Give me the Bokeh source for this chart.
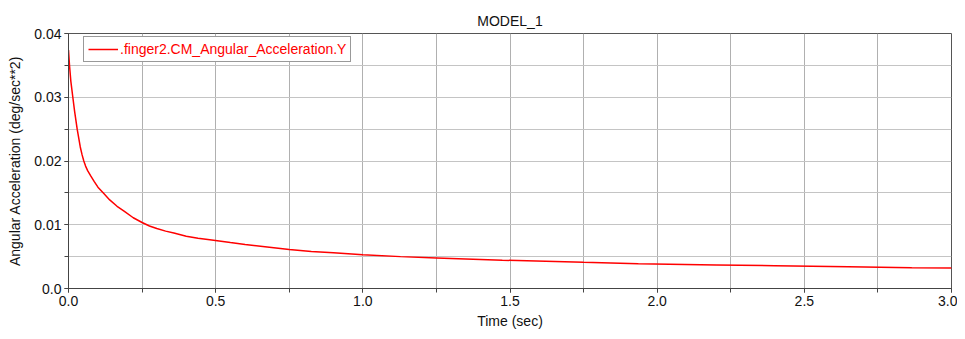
import numpy as np
from bokeh.plotting import figure
from bokeh.models import FixedTicker, Legend, LegendItem
from bokeh.embed import file_html
from bokeh.resources import INLINE

# ---- data ----
time_sec = [0.0, 0.0034, 0.008, 0.0147, 0.021, 0.0295, 0.04, 0.046, 0.052,
            0.058, 0.065, 0.075, 0.087, 0.1, 0.12, 0.14, 0.165, 0.19, 0.22,
            0.25, 0.275, 0.3, 0.33, 0.358, 0.4, 0.44, 0.48, 0.55, 0.6, 0.675,
            0.75, 0.825, 0.9, 1.0, 1.128, 1.25, 1.474, 1.75, 1.936, 2.2, 2.4,
            2.65, 2.865, 3.0]
ang_acc = [0.0374, 0.0350, 0.0325, 0.0300, 0.0277, 0.0250, 0.0222, 0.0210,
           0.0200, 0.0192, 0.0185, 0.0177, 0.0168, 0.0159, 0.0149, 0.0139,
           0.0129, 0.0121, 0.0111, 0.01035, 0.0098, 0.0094, 0.0090, 0.0087,
           0.0082, 0.0079, 0.00765, 0.0072, 0.0069, 0.0065, 0.0061, 0.0058,
           0.0056, 0.0053, 0.0050, 0.0048, 0.00444, 0.0041, 0.0039, 0.0037,
           0.00357, 0.0034, 0.00326, 0.0032]

x_ticks = [0.0, 0.5, 1.0, 1.5, 2.0, 2.5, 3.0]
x_tick_labels = ["0.0", "0.5", "1.0", "1.5", "2.0", "2.5", "3.0"]
y_ticks = [0.0, 0.01, 0.02, 0.03, 0.04]
y_tick_labels = ["0.0", "0.01", "0.02", "0.03", "0.04"]

title_text = "MODEL_1"
x_label = "Time (sec)"
y_label = "Angular Acceleration (deg/sec**2)"
series_name = ".finger2.CM_Angular_Acceleration.Y"

FONT = "Liberation Sans"

p = figure(width=957, height=331, output_backend="svg", toolbar_location=None,
           x_range=(0, 3), y_range=(0, 0.04),
           min_border_left=68, min_border_right=6, min_border_top=33,
           min_border_bottom=40)

p.title.text = title_text
p.title.align = "center"
p.title.text_font = FONT
p.title.text_font_size = "14px"
p.title.text_font_style = "normal"
p.title.text_color = "#111111"

x_minor = [round(v, 4) for v in np.arange(0, 3.0001, 0.25)]
y_minor = [round(v, 5) for v in np.arange(0, 0.04001, 0.005)]

p.xaxis.ticker = FixedTicker(ticks=x_ticks, minor_ticks=x_minor)
p.yaxis.ticker = FixedTicker(ticks=y_ticks, minor_ticks=y_minor)
p.xaxis.major_label_overrides = {t: l for t, l in zip(x_ticks, x_tick_labels)}
p.yaxis.major_label_overrides = {t: l for t, l in zip(y_ticks, y_tick_labels)}

p.xgrid.ticker = FixedTicker(ticks=x_minor)
p.ygrid.ticker = FixedTicker(ticks=y_minor)
p.xgrid.grid_line_color = "#b0b0b0"
p.ygrid.grid_line_color = "#c4c4c4"
p.xgrid.grid_line_width = 1
p.ygrid.grid_line_width = 1

for ax in (p.xaxis, p.yaxis):
    ax.axis_line_color = "#444444"
    ax.major_tick_line_color = "#444444"
    ax.minor_tick_line_color = "#444444"
    ax.major_tick_in = 0
    ax.minor_tick_in = 0
    ax.major_tick_out = 4
    ax.minor_tick_out = 4
    ax.major_label_text_font = FONT
    ax.major_label_text_font_size = "14px"
    ax.major_label_text_color = "#111111"
    ax.axis_label_text_font = FONT
    ax.axis_label_text_font_size = "14px"
    ax.axis_label_text_font_style = "normal"
    ax.axis_label_text_color = "#111111"

p.xaxis.axis_label = x_label
p.yaxis.axis_label = y_label
p.xaxis.major_label_standoff = 3
p.xaxis.axis_label_standoff = 4
p.yaxis.major_label_standoff = 3
p.yaxis.axis_label_standoff = 8

p.outline_line_color = "#555555"
p.outline_line_width = 1

r = p.line(time_sec, ang_acc, line_color="red", line_width=1.5)

legend = Legend(items=[LegendItem(label=series_name, renderers=[r])],
                location=(15, 226))
legend.label_text_font = FONT
legend.label_text_font_size = "14px"
legend.label_text_color = "red"
legend.border_line_color = "#333333"
legend.border_line_width = 1
legend.padding = 4
legend.margin = 0
legend.spacing = 0
legend.glyph_width = 30
legend.glyph_height = 16
legend.label_height = 16
legend.label_standoff = 2
legend.background_fill_alpha = 1.0
p.add_layout(legend)

open("out.html", "w").write(file_html(p, INLINE))
